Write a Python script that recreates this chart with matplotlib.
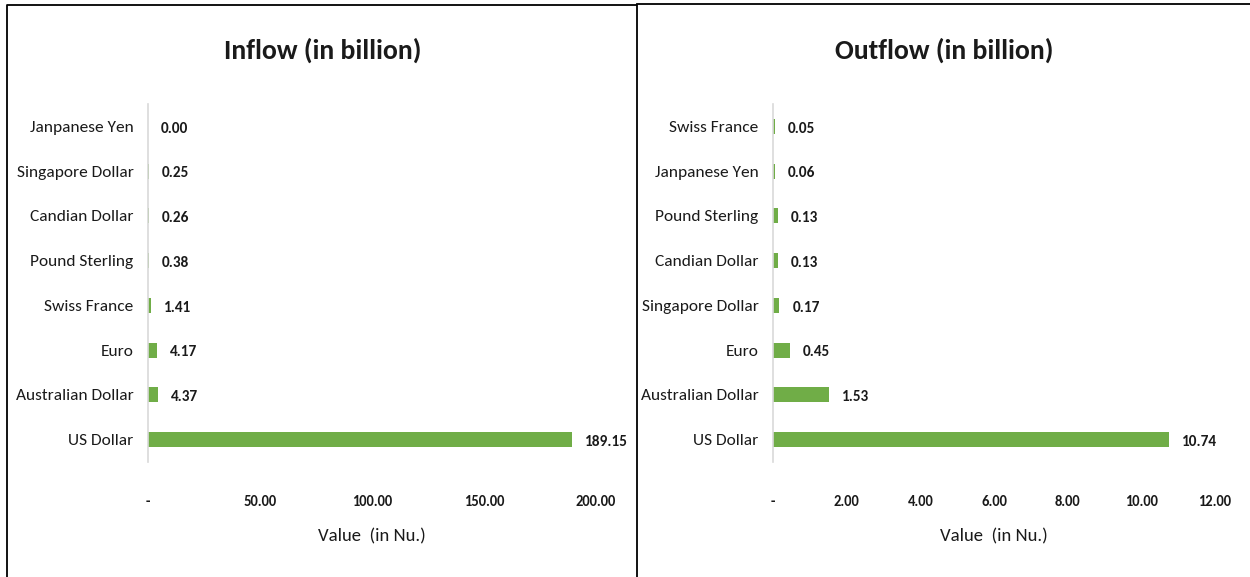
import matplotlib

matplotlib.use("Agg")
import matplotlib.pyplot as plt
from matplotlib.lines import Line2D

FONT = ["Carlito", "DejaVu Sans"]
GREEN = "#70AD47"
INK = "#1a1a1a"

# ---- data ------------------------------------------------------------------
in_labels = ["US Dollar", "Australian Dollar", "Euro", "Swiss France",
             "Pound Sterling", "Candian Dollar", "Singapore Dollar", "Janpanese Yen"]
in_values = [189.15, 4.37, 4.17, 1.41, 0.38, 0.26, 0.25, 0.00]
in_ticks = [0, 50, 100, 150, 200]

out_labels = ["US Dollar", "Australian Dollar", "Euro", "Singapore Dollar",
              "Candian Dollar", "Pound Sterling", "Janpanese Yen", "Swiss France"]
out_values = [10.74, 1.53, 0.45, 0.17, 0.13, 0.13, 0.06, 0.05]
out_ticks = [0, 2, 4, 6, 8, 10, 12]

W, H = 1250, 577
fig = plt.figure(figsize=(W / 100, H / 100), dpi=100)


def px(x0, y0, x1, y1):
    """pixel box (top-left origin) -> figure rect"""
    return [x0 / W, 1 - y1 / H, (x1 - x0) / W, (y1 - y0) / H]


def panel(rect, labels, values, ticks, title, title_x, offset_px):
    ax = fig.add_axes(px(*rect))
    ax.barh(range(len(values)), values, height=0.34, color=GREEN)
    ax.set_ylim(-0.5, len(values) - 0.5)
    ax.set_xlim(ticks[0], ticks[-1])
    ax.set_yticks(range(len(labels)))
    ax.set_yticklabels(labels, fontsize=12.5, family=FONT, color=INK)
    ax.set_xticks(ticks)
    ax.set_xticklabels(["-"] + [f"{t:.2f}" for t in ticks[1:]],
                       fontsize=10.5, family=FONT, fontweight="bold", color=INK)
    ax.tick_params(length=0)
    ax.tick_params(axis="x", pad=24)
    ax.tick_params(axis="y", pad=10.5)
    for s in ("top", "right", "bottom"):
        ax.spines[s].set_visible(False)
    ax.spines["left"].set_color("#d9d9d9")
    ax.spines["left"].set_linewidth(1.2)
    ax.set_xlabel("Value  (in Nu.)", fontsize=13.5, family=FONT, color=INK, labelpad=14)
    per_px = (ticks[-1] - ticks[0]) / (rect[2] - rect[0])
    for i, v in enumerate(values):
        ax.text(v + offset_px * per_px, i - 0.05, f"{v:.2f}", ha="left", va="center",
                fontsize=11, family=FONT, fontweight="bold", color=INK)
    fig.text(title_x / W, 1 - 50 / H, title, ha="center", va="center",
             fontsize=20, family=FONT, fontweight="bold", color=INK)
    return ax


panel((148, 104, 596, 462), in_labels, in_values, in_ticks,
      "Inflow (in billion)", 323, 13)
panel((773, 104, 1215, 462), out_labels, out_values, out_ticks,
      "Outflow (in billion)", 944, 13)

# ---- panel borders ---------------------------------------------------------
def line(xs, ys):
    fig.add_artist(Line2D([x / W for x in xs], [1 - y / H for y in ys],
                          color="black", lw=1.3, transform=fig.transFigure))


line([7, 7, 637, 637], [580, 5, 5, 580])
line([637, 1252], [4, 4])

fig.savefig("out.png", dpi=100, facecolor="white")
